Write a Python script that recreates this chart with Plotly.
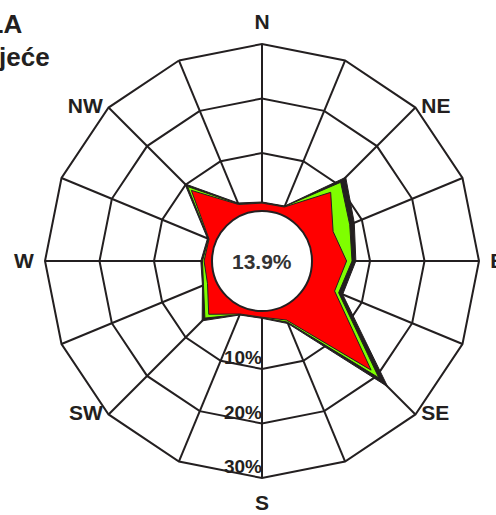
import plotly.graph_objects as go
import numpy as np

# ---- data (percent of time) ----
directions = ["N", "NNE", "NE", "ENE", "E", "ESE", "SE", "SSE",
              "S", "SSW", "SW", "WSW", "W", "WNW", "NW", "NNW"]
red_pct   = [0.8, 0.9, 8.0, 4.3, 5.7, 4.6, 18.5, 1.9, 0.5, 0.7, 4.0, 1.0, 0.8, 0.7, 8.5, 1.4]
green_pct = [0.1, 0.1, 2.6, 3.3, 1.0, 0.8, 2.0, 0.4, 0.1, 0.1, 1.0, 0.8, 0.3, 0.1, 1.0, 0.1]
black_pct = [0.1, 0.1, 1.3, 0.9, 0.7, 0.8, 2.3, 0.3, 0.1, 0.1, 0.7, 0.2, 0.3, 0.2, 0.7, 0.2]
calm_pct = 13.9
radial_ticks = [10, 20, 30]
cardinal_labels = ["N", "E", "S", "W"]
diagonal_labels = ["NE", "SE", "SW", "NW"]
title_lines = ["TUZLA", "proljeće"]

W, H = 496, 515
INK = "#231F20"
FONT = "Liberation Sans"
NBSP = "\u00a0"

red_cum = np.array(red_pct)
green_cum = red_cum + np.array(green_pct)
black_cum = green_cum + np.array(black_pct)

fig = go.Figure()
for vals, col in [(black_cum, INK), (green_cum, "#7FFF00"), (red_cum, "#FF0000")]:
    fig.add_trace(go.Scatterpolar(
        r=list(vals) + [vals[0]], theta=directions + [directions[0]],
        mode="lines", fill="toself",
        fillcolor=col, line=dict(color=INK, width=1), hoverinfo="skip",
        showlegend=False))

# radial tick labels along the S spoke
fig.add_trace(go.Scatterpolar(
    r=radial_ticks, theta=["S"] * len(radial_ticks), mode="text",
    text=[f"{v}%" for v in radial_ticks], textposition="top left",
    textfont=dict(family=FONT, size=19, color=INK, weight="bold"),
    hoverinfo="skip", showlegend=False, cliponaxis=False))

# diagonal direction labels beside the outer vertices
diag_pos = ["middle right", "middle right", "middle left", "middle left"]
diag_text = [NBSP + d if p.endswith("right") else d + NBSP
             for d, p in zip(diagonal_labels, diag_pos)]
fig.add_trace(go.Scatterpolar(
    r=[radial_ticks[-1]] * len(diagonal_labels), theta=diagonal_labels, mode="text",
    text=diag_text, textposition=diag_pos,
    textfont=dict(family=FONT, size=21, color=INK, weight="bold"),
    hoverinfo="skip", showlegend=False, cliponaxis=False))

# geometry of the polar area (pixels)
cx, cy, R = 262, 261, 217
hole_px = 47
circle_px = 50

fig.update_layout(
    width=W, height=H,
    margin=dict(l=0, r=0, t=0, b=0),
    paper_bgcolor="white",
    showlegend=False,
    polar=dict(
        domain=dict(x=[(cx - R) / W, (cx + R) / W],
                    y=[(H - cy - R) / H, (H - cy + R) / H]),
        gridshape="linear",
        hole=hole_px / R,
        bgcolor="white",
        angularaxis=dict(
            type="category", categoryorder="array", categoryarray=directions,
            direction="clockwise", rotation=90,
            tickmode="array", tickvals=directions,
            ticktext=[d if d in cardinal_labels else "" for d in directions],
            showgrid=True, gridcolor=INK, gridwidth=1.5,
            showline=True, linecolor=INK, linewidth=2,
            ticks="outside", ticklen=6, tickcolor="rgba(0,0,0,0)",
            layer="above traces",
            tickfont=dict(family=FONT, size=21, color=INK, weight="bold"),
        ),
        radialaxis=dict(
            range=[-1.2, 30], tickmode="array", tickvals=radial_ticks,
            showticklabels=False, showline=False, ticks="",
            showgrid=True, gridcolor=INK, gridwidth=1.5,
            layer="above traces",
        ),
    ),
    shapes=[dict(
        type="circle", xref="paper", yref="paper", layer="above",
        x0=(cx - circle_px) / W, x1=(cx + circle_px) / W,
        y0=(H - cy - circle_px) / H, y1=(H - cy + circle_px) / H,
        fillcolor="white", line=dict(color=INK, width=2))],
    annotations=[
        dict(text=f"{calm_pct}%", x=cx / W, y=(H - cy) / H, xref="paper", yref="paper",
             showarrow=False, xanchor="center", yanchor="middle",
             font=dict(family=FONT, size=21, color="#333333", weight="bold")),
        dict(text=title_lines[0], x=24 / W, y=1 - 24 / H, xref="paper", yref="paper",
             showarrow=False, xanchor="right", yanchor="middle",
             font=dict(family=FONT, size=26, color=INK, weight="bold")),
        dict(text=title_lines[1], x=52 / W, y=1 - 57 / H, xref="paper", yref="paper",
             showarrow=False, xanchor="right", yanchor="middle",
             font=dict(family=FONT, size=26, color=INK, weight="bold")),
    ],
)

fig.write_html("out.html", config={"displayModeBar": False},
               post_script="document.body.style.margin='0';document.body.style.overflow='hidden';")
